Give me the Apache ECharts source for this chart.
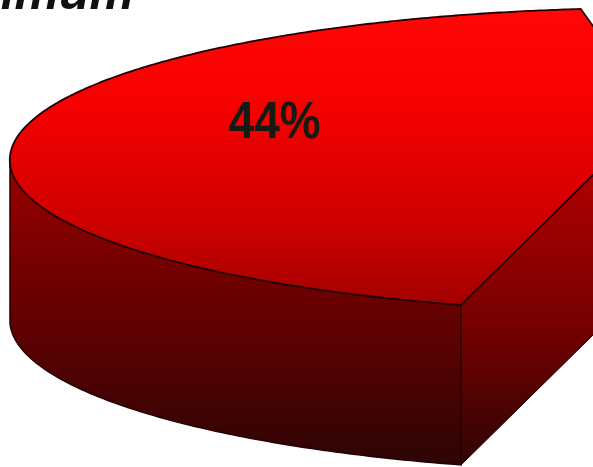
<!DOCTYPE html>
<html><head><meta charset="utf-8">
<script src="https://cdn.jsdelivr.net/npm/echarts@6/dist/echarts.min.js"></script>
<style>html,body{margin:0;padding:0;background:#fff;overflow:hidden}#c{width:593px;height:467px}</style>
</head><body><div id="c"></div>
<script>
// ---- data ----
var categories = ['Share', 'Rest'];
var values = [44, 56];
var titleText = 'Minimum';

// ---- view (3D projection of the pie) ----
var cam = {ox: 656, oy: 113, f: 1937.7, D: 3.153, s: 0.2237, c: 0.9747, T: 160};
var startDeg = 102.8;
var explodeDist = 0.3;
var explodeIndex = 0;

var total = values.reduce(function (a, b) { return a + b; }, 0);
function rad(d) { return d * Math.PI / 180; }

function proj(X, Z, down) {
  var yc = -Z * cam.s;
  var d = cam.D - Z * cam.c;
  return [cam.ox + cam.f * X / d, cam.oy - cam.f * yc / d + (down ? cam.T : 0)];
}
function sliceAngles(i) {
  var a = startDeg;
  for (var k = 0; k < i; k++) a += values[k] / total * 360;
  return [a, a + values[i] / total * 360];
}
var eA = sliceAngles(explodeIndex);
var midE = rad((eA[0] + eA[1]) / 2);
var pieC = [-explodeDist * Math.cos(midE), -explodeDist * Math.sin(midE)];
function sliceCenter(i) {
  if (i !== explodeIndex) return pieC;
  var ab = sliceAngles(i), m = rad((ab[0] + ab[1]) / 2);
  return [pieC[0] + explodeDist * Math.cos(m), pieC[1] + explodeDist * Math.sin(m)];
}

var palettes = [
  {top: ['#ff0808', '#f60000', '#d20000', '#9c0000'],
   wall: ['#a20000', '#680000', '#2c0505'],
   cut: ['#ae0000', '#760000', '#2e0404'],
   edge: '#240000'},
  {top: ['#4a78d8', '#3d68c4', '#2f56a8', '#22438a'],
   wall: ['#22438a', '#17306a', '#0c1a3c'],
   cut: ['#26488f', '#1a3470', '#0d1c40'],
   edge: '#0a1530'}
];
function grad(y0, y1, cols) {
  return {type: 'linear', x: 0, y: y0, x2: 0, y2: y1, global: true,
    colorStops: cols.map(function (c, k) { return {offset: k / (cols.length - 1), color: c}; })};
}

function renderItem(params, api) {
  var i = params.dataIndex;
  var v = values[i];
  var ab = sliceAngles(i), a0 = ab[0], a1 = ab[1];
  var C = sliceCenter(i);
  var pal = palettes[i % palettes.length];
  var camZ = cam.D * cam.c;
  var children = [];
  function rim(t, down) { return proj(C[0] + Math.cos(rad(t)), C[1] + Math.sin(rad(t)), down); }
  function vis(t) { return (-C[0] * Math.cos(rad(t)) + (camZ - C[1]) * Math.sin(rad(t)) - 1) > 0; }
  var run = [], runs = [], t, tt;
  for (t = a0; t <= a1 + 1e-9; t += 0.5) {
    tt = Math.min(t, a1);
    if (vis(tt)) run.push(tt); else if (run.length) { runs.push(run); run = []; }
  }
  if (run.length) runs.push(run);
  runs.forEach(function (r) {
    if (r.length < 2) return;
    var pts = r.map(function (q) { return rim(q, false); })
      .concat(r.slice().reverse().map(function (q) { return rim(q, true); }));
    children.push({type: 'polygon', shape: {points: pts}, z2: 2,
      style: {fill: grad(140, 467, pal.wall), stroke: pal.edge, lineWidth: 1.4}});
  });
  function faceVis(q, sg) {
    var n = sg > 0 ? [Math.sin(rad(q)), -Math.cos(rad(q))] : [-Math.sin(rad(q)), Math.cos(rad(q))];
    return (-C[0]) * n[0] + (camZ - C[1]) * n[1] > 0;
  }
  [[a0, 1], [a1, -1]].forEach(function (e) {
    if (!faceVis(e[0], e[1])) return;
    var pts = [proj(C[0], C[1], false), rim(e[0], false), rim(e[0], true), proj(C[0], C[1], true)];
    children.push({type: 'polygon', shape: {points: pts}, z2: 3,
      style: {fill: grad(180, 467, pal.cut), stroke: pal.edge, lineWidth: 1}});
  });
  var topPts = [proj(C[0], C[1], false)];
  for (t = a0; t <= a1 + 1e-9; t += 0.5) topPts.push(rim(Math.min(t, a1), false));
  children.push({type: 'polygon', shape: {points: topPts}, z2: 5,
    style: {fill: grad(0, 320, pal.top), stroke: pal.edge, lineWidth: 1.8}});
  var m = rad((a0 + a1) / 2);
  var lp = proj(C[0] + 0.625 * Math.cos(m), C[1] + 0.625 * Math.sin(m), false);
  children.push({type: 'text', x: lp[0], y: lp[1] + 14, z2: 10, scaleY: 1.12,
    style: {text: Math.round(v / total * 100) + '%',
      font: 'bold 46px "Liberation Sans", Arial, sans-serif',
      fill: '#161a12', align: 'center', verticalAlign: 'middle'}});
  return {type: 'group', children: children};
}

var chart = echarts.init(document.getElementById('c'));
var option = {
  backgroundColor: '#ffffff',
  animation: false,
  graphic: [{
    type: 'text', x: 134, y: -5, z: 10,
    style: {text: titleText, font: 'italic bold 50px "Liberation Sans", Arial, sans-serif',
      fill: '#111111', align: 'right', verticalAlign: 'middle'}
  }],
  xAxis: {show: false, type: 'value', min: 0, max: 1},
  yAxis: {show: false, type: 'value', min: 0, max: 1},
  grid: {left: 0, right: 0, top: 0, bottom: 0},
  series: [{
    type: 'custom',
    renderItem: renderItem,
    clip: false,
    data: values.map(function (v, i) { return {name: categories[i], value: [0, 0, v]}; })
  }]
};
chart.setOption(option);
window.chart = chart;
</script></body></html>
